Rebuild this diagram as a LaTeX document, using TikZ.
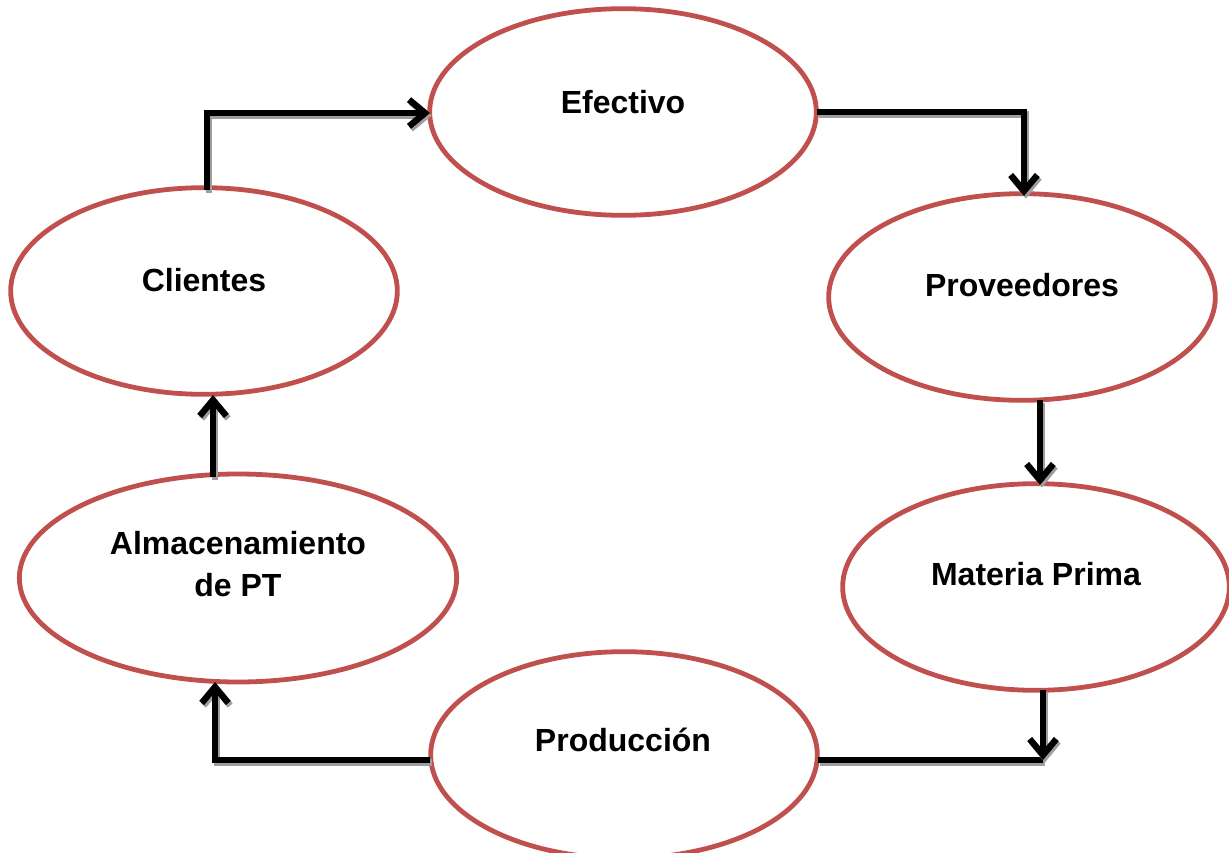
\documentclass[tikz,border=0pt]{standalone}
\usepackage{fontspec}
\setmainfont{Liberation Sans}
\usetikzlibrary{arrows.meta,calc,shapes.geometric}
\definecolor{ellred}{RGB}{192,80,77}
\tikzset{
  oval/.style={ellipse, draw=ellred, line width=3.6pt, minimum width=290pt, minimum height=155pt, inner sep=0pt},
  lbl/.style={font=\fontsize{24}{31.5}\selectfont\bfseries, align=center, inner sep=0pt},
  conn/.style={line width=4.8pt, line join=miter, -{Straight Barb[length=12pt,width=20pt,line width=4.8pt]},
    preaction={draw=black!38, line width=4.8pt, transform canvas={shift={(1.4pt,-1.9pt)}}}},
  plain/.style={line width=4.8pt,
    preaction={draw=black!38, line width=4.8pt, transform canvas={shift={(1.4pt,-1.9pt)}}}}
}
\begin{document}
\begin{tikzpicture}[x=0.75pt,y=-0.75pt]
\path[use as bounding box] (0,0) rectangle (1229,853);
\node[oval] (ef) at (623,112) {};
\node[oval] (pr) at (1022,297) {};
\node[oval] (mp) at (1036,587) {};
\node[oval] (pd) at (624,755) {};
\node[oval, minimum width=328pt, minimum height=156pt] (al) at (238,578) {};
\node[oval] (cl) at (204,291) {};
\node[lbl] (tef) at (623,102) {Efectivo};
\node[lbl] (tpr) at (1022,285) {Proveedores};
\node[lbl] (tmp) at (1036,574) {Materia Prima};
\node[lbl] (tpd) at (623,740) {Producción};
\node[lbl] (tcl) at (204,280) {Clientes};
\node[lbl] (tal) at (238,564) {Almacenamiento\\de PT};
% connector end points
\coordinate (prb) at (1040,400);
\coordinate (mpt) at (1040,485);
\coordinate (mpb) at (1043,690);
\coordinate (pdr) at (818,760);
\coordinate (pdl) at (430,760);
\coordinate (jr) at (1043,760);
\coordinate (alb) at (215,682);
\coordinate (alt) at (213,477);
\coordinate (clb) at (213,395);
\coordinate (clt) at (207,190);
\coordinate (efl) at (430,113);
\coordinate (efr) at (817,112);
\coordinate (prt) at (1024,196);
% connectors
\draw[conn] (clt) |- (efl);
\draw[conn] (efr) -| (prt);
\draw[conn] (prb) -- (mpt);
\draw[plain] (pdr) -- (jr);
\draw[conn] (mpb) -- (jr);
\draw[conn] (pdl) -| (alb);
\draw[conn] (alt) -- (clb);
\end{tikzpicture}
\end{document}
